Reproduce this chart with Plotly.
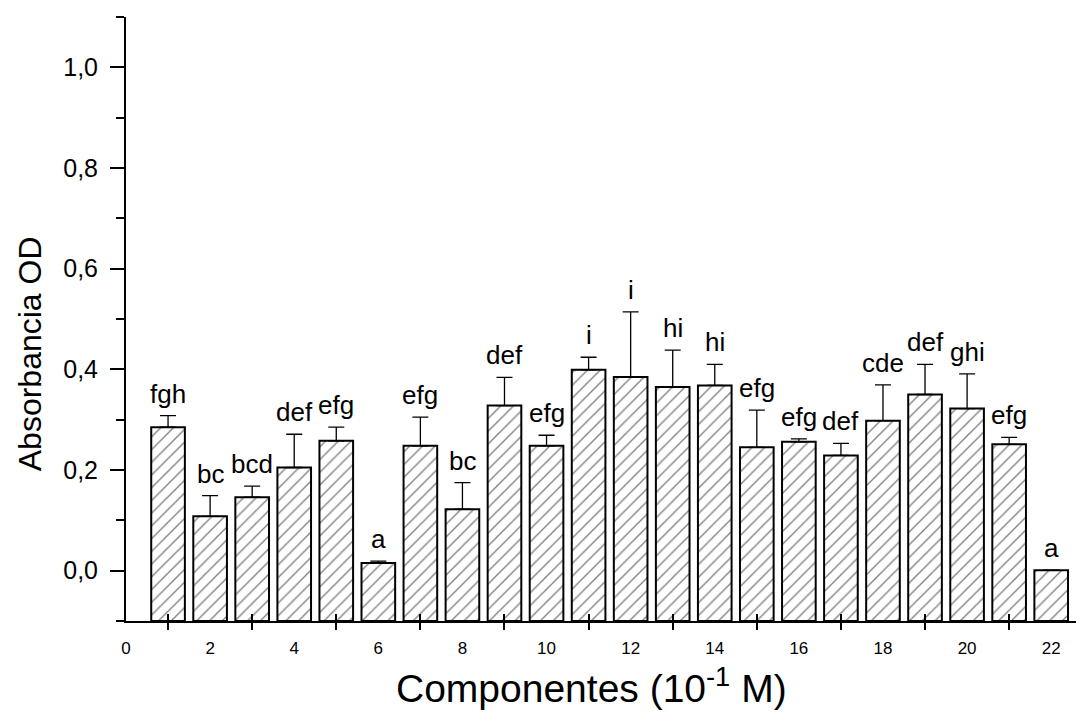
import plotly.graph_objects as go

# ---- data ----
componentes = list(range(1, 23))
absorbancia = [0.285, 0.108, 0.146, 0.205, 0.258, 0.015, 0.248, 0.122, 0.328, 0.248, 0.399,
               0.385, 0.365, 0.368, 0.245, 0.256, 0.229, 0.298, 0.350, 0.322, 0.251, 0.001]
error_sup = [0.023, 0.041, 0.022, 0.066, 0.027, 0.004, 0.057, 0.053, 0.056, 0.021, 0.025,
             0.129, 0.073, 0.042, 0.074, 0.006, 0.024, 0.071, 0.060, 0.069, 0.014, 0.0]
letras = ["fgh", "bc", "bcd", "def", "efg", "a", "efg", "bc", "def", "efg", "i",
          "i", "hi", "hi", "efg", "efg", "def", "cde", "def", "ghi", "efg", "a"]
x_tick_vals = list(range(0, 23, 2))
x_tick_text = [str(v) for v in x_tick_vals]
x_odd_ticks = list(range(1, 22, 2))
y_tick_vals = [0.0, 0.2, 0.4, 0.6, 0.8, 1.0]
y_minor_vals = [-0.1, 0.1, 0.3, 0.5, 0.7, 0.9, 1.1]
x_title = "Componentes (10<sup>-1</sup> M)"
y_title = "Absorbancia OD"

Y_MIN, Y_MAX = -0.1, 1.1
X_MIN, X_MAX = 0, 22.78
FONT = "Arial, Liberation Sans, sans-serif"

fig = go.Figure()

fig.add_trace(go.Bar(
    x=componentes,
    y=[v - Y_MIN for v in absorbancia],
    base=Y_MIN,
    width=0.8,
    marker=dict(
        color="white",
        line=dict(color="black", width=2),
        pattern=dict(shape="/", fgcolor="black", bgcolor="white", size=9, solidity=0.15),
    ),
    showlegend=False,
    hoverinfo="skip",
))

fig.add_trace(go.Scatter(
    x=componentes,
    y=absorbancia,
    mode="markers",
    marker=dict(size=0.1, color="rgba(0,0,0,0)"),
    error_y=dict(type="data", symmetric=False, array=error_sup,
                 arrayminus=[0] * len(error_sup), color="black", thickness=1.3, width=8),
    showlegend=False,
    hoverinfo="skip",
))

# invisible trace to carry the secondary x axis (outer tick marks)
fig.add_trace(go.Scatter(x=[None], y=[None], xaxis="x2", mode="markers",
                         showlegend=False, hoverinfo="skip"))

for xi, yi, ei, lab in zip(componentes, absorbancia, error_sup, letras):
    fig.add_annotation(x=xi, y=yi + ei, text=lab, showarrow=False,
                       yanchor="bottom", xanchor="center", yshift=5,
                       font=dict(family=FONT, size=26, color="black"))

# axis titles
fig.add_annotation(xref="paper", yref="paper", x=0.5, y=0, text=x_title,
                   showarrow=False, xanchor="center", yanchor="bottom",
                   xshift=-14, yshift=-91,
                   font=dict(family=FONT, size=39, color="black"))
fig.add_annotation(xref="paper", yref="y", x=0, y=0.43, text=y_title,
                   showarrow=False, xanchor="center", yanchor="middle",
                   textangle=-90, xshift=-96,
                   font=dict(family=FONT, size=32, color="black"))

fig.update_layout(
    width=1084, height=712,
    margin=dict(l=118, r=8, t=9, b=99),
    paper_bgcolor="white", plot_bgcolor="white",
    separators=",.",
    font=dict(family=FONT, color="black"),
    bargap=0.2,
    xaxis=dict(
        range=[X_MIN, X_MAX], automargin=False,
        tickmode="array", tickvals=x_tick_vals, ticktext=x_tick_text,
        ticks="outside", ticklen=8, tickcolor="rgba(0,0,0,0)", tickwidth=2,
        tickfont=dict(family=FONT, size=17, color="black"),
        ticklabelstandoff=3,
        minor=dict(tickmode="array", tickvals=x_odd_ticks, ticks="inside",
                   ticklen=7, tickwidth=2, tickcolor="black"),
        showline=True, linecolor="black", linewidth=2,
        showgrid=False, zeroline=False,
    ),
    xaxis2=dict(
        range=[X_MIN, X_MAX], overlaying="x", anchor="y", side="bottom",
        automargin=False,
        tickmode="array", tickvals=x_odd_ticks, ticks="outside", ticklen=8,
        tickwidth=2, tickcolor="black", showticklabels=False,
        showline=False, showgrid=False, zeroline=False,
    ),
    yaxis=dict(
        range=[Y_MIN, Y_MAX], automargin=False,
        tickmode="array", tickvals=y_tick_vals, tickformat=".1f",
        ticks="outside", ticklen=14, tickwidth=2, tickcolor="black",
        tickfont=dict(family=FONT, size=25, color="black"),
        ticklabelstandoff=7,
        minor=dict(tickmode="array", tickvals=y_minor_vals, ticks="outside",
                   ticklen=8, tickwidth=2, tickcolor="black"),
        showline=True, linecolor="black", linewidth=2,
        showgrid=False, zeroline=False,
    ),
)

fig.write_html("out.html")
